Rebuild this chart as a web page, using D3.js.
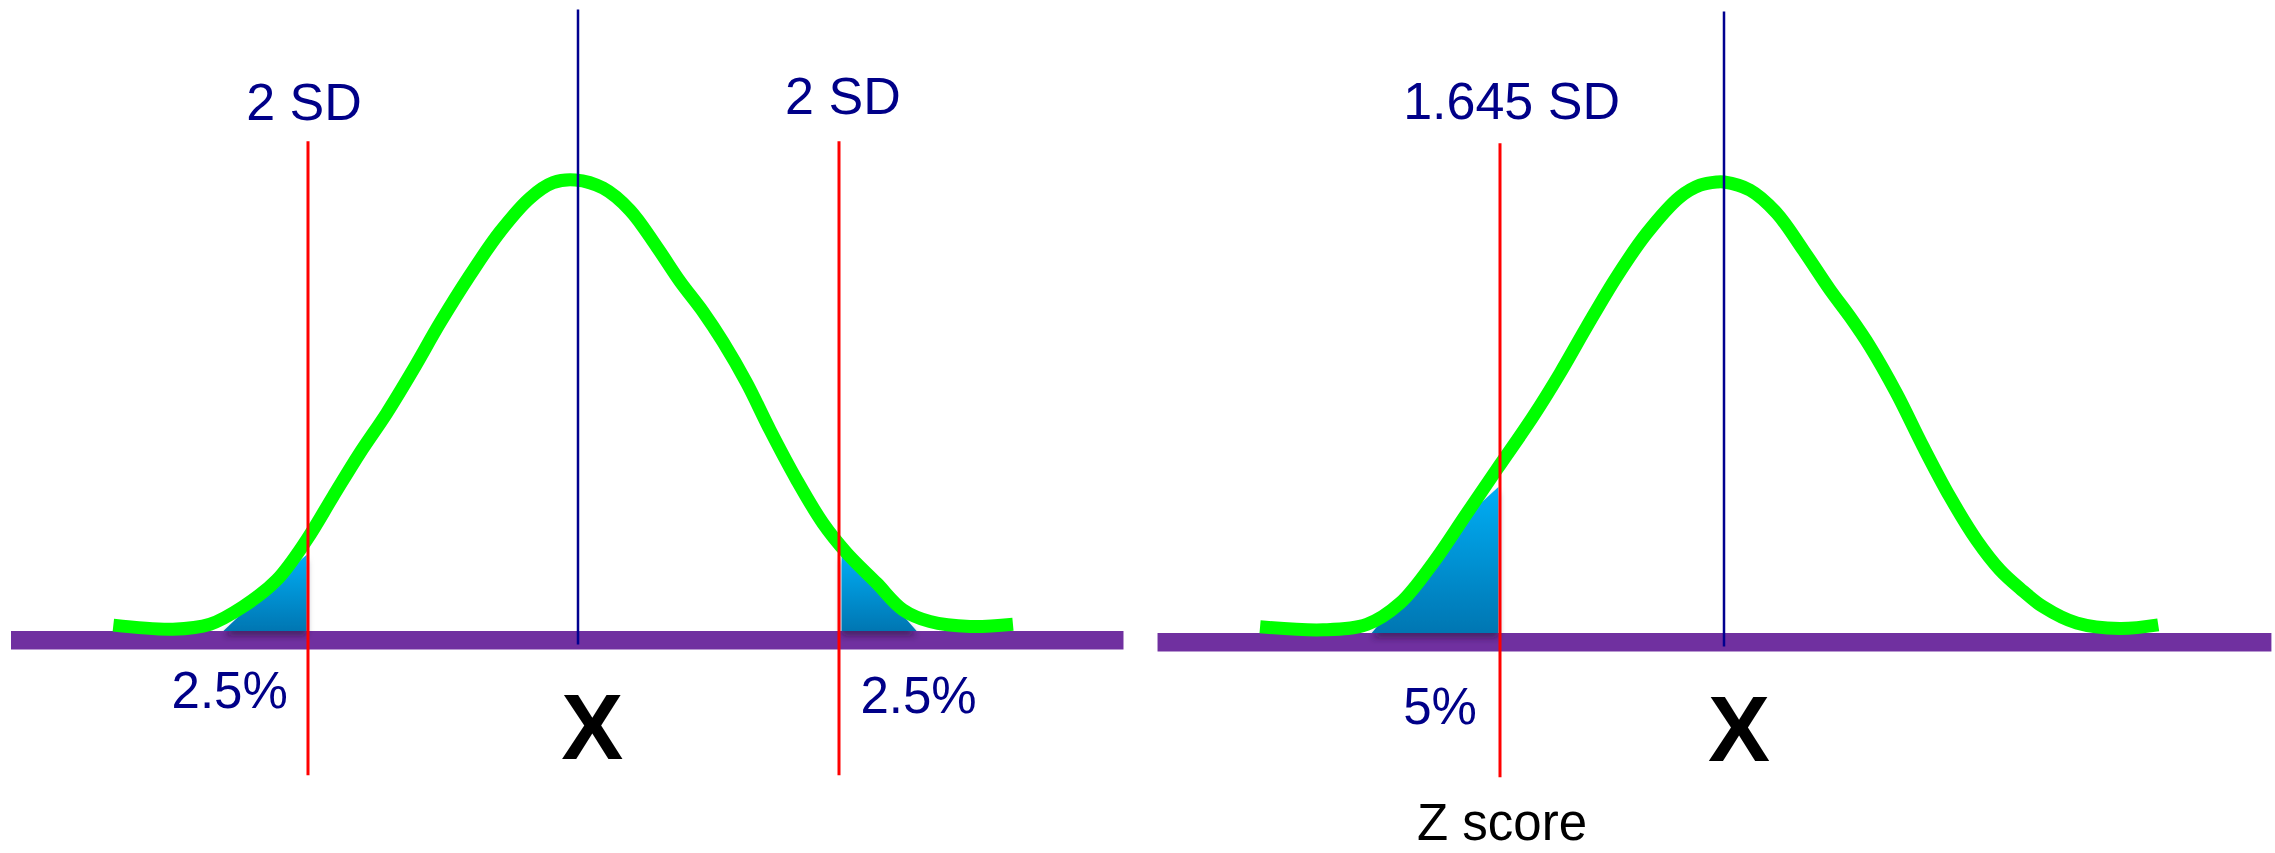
<!DOCTYPE html>
<html>
<head>
<meta charset="utf-8">
<script src="https://cdn.jsdelivr.net/npm/d3@7"></script>
<style>
  html, body { margin: 0; padding: 0; background: #ffffff; }
  svg { display: block; }
  text { font-family: "Liberation Sans", Arial, sans-serif; }
</style>
</head>
<body>
<svg id="chart" width="2275" height="853"></svg>
<script>
// ---------- DATA (z = SD units from the mean, h = relative height, peak = 1) ----------
const leftCurveZ  = [-3.442, -3.0, -2.726, -2.481, -2.232, -2.010, -1.815, -1.615, -1.417, -1.222, -1.022, -0.800, -0.578, -0.356, -0.185, -0.02,
                     0.192, 0.398, 0.603, 0.782, 0.958, 1.111, 1.293, 1.471, 1.676, 1.877, 2.059, 2.289, 2.490, 2.697, 3.004, 3.333];
const leftCurveH  = [0.013, 0.004, 0.015, 0.054, 0.113, 0.202, 0.298, 0.395, 0.483, 0.579, 0.683, 0.789, 0.885, 0.960, 0.994, 1.0,
                     0.982, 0.933, 0.852, 0.775, 0.708, 0.641, 0.550, 0.446, 0.335, 0.239, 0.173, 0.106, 0.047, 0.021, 0.010, 0.015];
const rightCurveZ = [-3.407, -2.944, -2.623, -2.379, -2.137, -1.889, -1.645, -1.402, -1.204, -1.008, -0.788, -0.568, -0.323, -0.176, -0.054, 0,
                     0.191, 0.387, 0.582, 0.778, 0.925, 1.072, 1.268, 1.463, 1.659, 1.855, 2.026, 2.173, 2.344, 2.590, 2.907, 3.189];
const rightCurveH = [0.014, 0.007, 0.019, 0.066, 0.155, 0.265, 0.373, 0.480, 0.576, 0.679, 0.790, 0.886, 0.967, 0.993, 1.0, 1.0,
                     0.982, 0.931, 0.849, 0.761, 0.701, 0.635, 0.531, 0.413, 0.302, 0.206, 0.140, 0.099, 0.058, 0.022, 0.010, 0.018];

// shaded tails (blue wedges)
const leftLowTailZ   = [-2.627, -2.331, -2.01, -2.01];
const leftLowTailH   = [0.0, 0.084, 0.169, 0.0];
const leftHighTailZ  = [2.02, 2.238, 2.34, 2.595, 2.02];
const leftHighTailH  = [0.172, 0.113, 0.084, 0.0, 0.0];
const rightLowTailZ  = [-2.587, -2.355, -2.085, -1.841, -1.657, -1.657];
const rightLowTailH  = [0.0, 0.084, 0.184, 0.273, 0.324, 0.0];

// cut-offs and axis extents
const leftCutoffs  = [-2, 2];
const rightCutoffs = [-1.645];
const leftAxisExtent  = [-4.2, 4.18];
const rightAxisExtent = [-4.16, 4.02];

// labels
const leftSDLabels   = ["2 SD", "2 SD"];
const leftPctLabels  = ["2.5%", "2.5%"];
const leftPctZ       = [-2.58, 2.61];
const rightSDLabels  = ["1.645 SD"];
const rightPctLabels = ["5%"];
const rightPctZ      = [-2.085];
const meanLabel      = "X";
const zLabel         = "Z score";

// ---------- LAYOUT ----------
const svg = d3.select("#chart");
const defs = svg.append("defs");
const grad = defs.append("linearGradient").attr("id", "tailGrad")
  .attr("x1", 0).attr("y1", 0).attr("x2", 0).attr("y2", 1);
grad.append("stop").attr("offset", "0%").attr("stop-color", "#00AEF5");
grad.append("stop").attr("offset", "100%").attr("stop-color", "#0076B2");
const sh = defs.append("filter").attr("id", "shadow")
  .attr("x", "-20%").attr("y", "-20%").attr("width", "140%").attr("height", "160%");
sh.append("feDropShadow").attr("dx", 0).attr("dy", 5).attr("stdDeviation", 3)
  .attr("flood-color", "#2a0a3a").attr("flood-opacity", 0.55);

const panels = [
  {
    x: d3.scaleLinear().domain([-2, 0, 2]).range([308, 578, 839]),
    y: d3.scaleLinear().domain([0, 1]).range([631, 180]),
    curveZ: leftCurveZ, curveH: leftCurveH,
    tails: [[leftLowTailZ, leftLowTailH], [leftHighTailZ, leftHighTailH]],
    axis: leftAxisExtent,
    cutoffs: leftCutoffs,
    sdLabels: leftSDLabels, sdLabelH: [1.133, 1.146], sdLabelDz: [-0.03, 0.03],
    pctLabels: leftPctLabels, pctZ: leftPctZ, pctH: [-0.171, -0.182],
    zLabel: null
  },
  {
    x: d3.scaleLinear().domain([-1.645, 0]).range([1500, 1724]),
    y: d3.scaleLinear().domain([0, 1]).range([633, 182]),
    curveZ: rightCurveZ, curveH: rightCurveH,
    tails: [[rightLowTailZ, rightLowTailH]],
    axis: rightAxisExtent,
    cutoffs: rightCutoffs,
    sdLabels: rightSDLabels, sdLabelH: [1.14], sdLabelDz: [0.085],
    pctLabels: rightPctLabels, pctZ: rightPctZ, pctH: [-0.202],
    zLabel: zLabel
  }
];

panels.forEach(p => {
  const g = svg.append("g");
  const x = p.x, y = p.y;

  // purple baseline bar
  g.append("rect")
    .attr("x", x(p.axis[0])).attr("y", y(0))
    .attr("width", x(p.axis[1]) - x(p.axis[0]))
    .attr("height", y(-0.041) - y(0))
    .attr("fill", "#7030A0");

  // shaded tails
  const poly = d3.line().x(d => x(d[0])).y(d => y(d[1]));
  p.tails.forEach(([tz, th]) => {
    const pts = tz.map((z, i) => [z, th[i]]);
    g.append("path")
      .attr("d", poly(pts) + "Z")
      .attr("fill", "url(#tailGrad)")
      .attr("filter", "url(#shadow)");
  });

  // green curve
  const pts = p.curveZ.map((z, i) => [z, p.curveH[i]]);
  g.append("path")
    .attr("d", d3.line().x(d => x(d[0])).y(d => y(d[1])).curve(d3.curveCatmullRom.alpha(0.5))(pts))
    .attr("fill", "none")
    .attr("stroke", "#00FF00")
    .attr("stroke-width", 13)
    .attr("stroke-linecap", "butt")
    .attr("stroke-linejoin", "round");

  // red cutoff lines
  p.cutoffs.forEach(c => {
    g.append("line")
      .attr("x1", x(c)).attr("x2", x(c))
      .attr("y1", y(1.086)).attr("y2", y(-0.32))
      .attr("stroke", "#FF0000").attr("stroke-width", 3);
  });

  // mean line
  g.append("line")
    .attr("x1", x(0)).attr("x2", x(0))
    .attr("y1", y(1.378)).attr("y2", y(-0.03))
    .attr("stroke", "#000090").attr("stroke-width", 2.5);

  // SD labels
  p.sdLabels.forEach((t, i) => {
    g.append("text")
      .attr("x", x(p.cutoffs[i] + p.sdLabelDz[i])).attr("y", y(p.sdLabelH[i]))
      .attr("text-anchor", "middle")
      .attr("font-size", 52).attr("fill", "#000088")
      .text(t);
  });

  // percent labels
  p.pctLabels.forEach((t, i) => {
    g.append("text")
      .attr("x", x(p.pctZ[i])).attr("y", y(p.pctH[i]))
      .attr("text-anchor", "middle")
      .attr("font-size", 51).attr("fill", "#000088")
      .text(t);
  });

  // mean label X
  g.append("text")
    .attr("x", x(0.11)).attr("y", y(-0.284))
    .attr("text-anchor", "middle")
    .attr("font-size", 93).attr("font-weight", "bold").attr("fill", "#000000")
    .text(meanLabel);

  if (p.zLabel) {
    g.append("text")
      .attr("x", x(-1.63)).attr("y", y(-0.46))
      .attr("text-anchor", "middle")
      .attr("font-size", 51).attr("fill", "#000000")
      .text(p.zLabel);
  }
});
</script>
</body>
</html>
